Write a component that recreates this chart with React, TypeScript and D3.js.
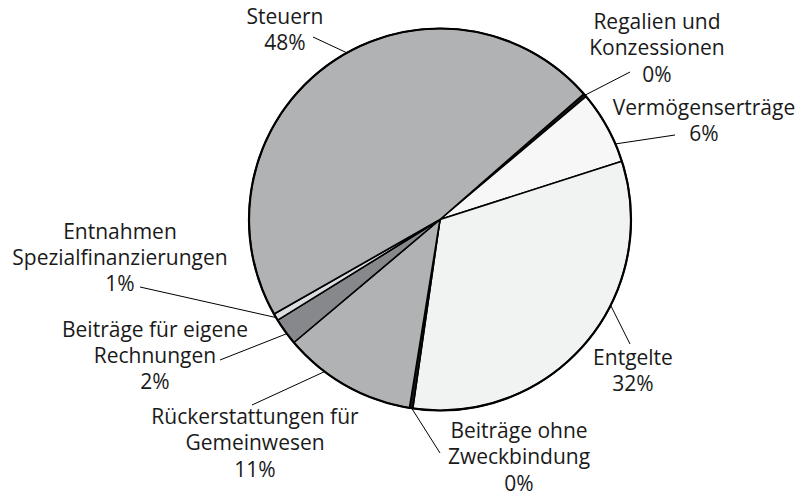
import React from "react";
import * as d3 from "d3";

// ---- data ----
const categories = [
  "Regalien und Konzessionen",
  "Vermögenserträge",
  "Entgelte",
  "Beiträge ohne Zweckbindung",
  "Rückerstattungen für Gemeinwesen",
  "Beiträge für eigene Rechnungen",
  "Entnahmen Spezialfinanzierungen",
  "Steuern",
];
const shares = [0.28, 6.2, 32.2, 0.28, 11.3, 2.3, 0.6, 46.8];
const percentLabels = ["0%", "6%", "32%", "0%", "11%", "2%", "1%", "48%"];
const labelLines = [
  ["Regalien und", "Konzessionen"],
  ["Vermögenserträge"],
  ["Entgelte"],
  ["Beiträge ohne", "Zweckbindung"],
  ["Rückerstattungen für", "Gemeinwesen"],
  ["Beiträge für eigene", "Rechnungen"],
  ["Entnahmen", "Spezialfinanzierungen"],
  ["Steuern"],
];

// ---- styling / layout ----
const colors = ["#1a1a1a", "#f7f7f7", "#f1f2f2", "#1a1a1a", "#b1b2b4", "#87888b", "#dcdddf", "#b1b2b4"];
const W = 807, H = 498;
const cx = 440, cy = 219.5, R = 191;
const startDeg = 48.9;
const FONT = "'Open Sans', sans-serif";
const FS = 21;
const LH = 26.3;
// label text anchor (center x, first baseline), leader rim angle (deg), leader outer end
const labelPos = [
  { x: 657, y: 29, rim: 49.4, ex: 630, ey: 72 },
  { x: 704, y: 115, rim: 66.7, ex: 675, ey: 135 },
  { x: 633, y: 365, rim: 116.7, ex: 630, ey: 344 },
  { x: 519, y: 438, rim: 188.5, ex: 440, ey: 453 },
  { x: 255, y: 424, rim: 217.2, ex: 252, ey: 405 },
  { x: 155, y: 336.5, rim: 233.3, ex: 220, ey: 360 },
  { x: 120, y: 238.5, rim: 239.1, ex: 140, ey: 287 },
  { x: 285, y: 24, rim: 330.8, ex: 313, ey: 37 },
];

export default function App() {
  const pie = d3
    .pie<number>()
    .sort(null)
    .value((d) => d)
    .startAngle((startDeg * Math.PI) / 180)
    .endAngle((startDeg * Math.PI) / 180 + 2 * Math.PI);
  const arcs = pie(shares);
  const arc = d3.arc<d3.PieArcDatum<number>>().innerRadius(0).outerRadius(R);

  return (
    <svg
      width={W}
      height={H}
      style={{ position: "absolute", left: 0, top: 0, background: "#fff" }}
      fontFamily={FONT}
    >
      <g transform={`translate(${cx},${cy})`}>
        {arcs.map((a, i) => (
          <path
            key={categories[i]}
            d={arc(a) || ""}
            fill={colors[i]}
            stroke="#000"
            strokeWidth={1.6}
            strokeLinejoin="round"
          />
        ))}
        <circle r={R} fill="none" stroke="#000" strokeWidth={2.2} />
      </g>
      {labelPos.map((p, i) => {
        const ang = (p.rim * Math.PI) / 180;
        const rx = cx + R * Math.sin(ang);
        const ry = cy - R * Math.cos(ang);
        return (
          <line key={"l" + i} x1={rx} y1={ry} x2={p.ex} y2={p.ey} stroke="#000" strokeWidth={1} />
        );
      })}
      {labelPos.map((p, i) => {
        const lines = [...labelLines[i], percentLabels[i]];
        return (
          <text key={"t" + i} x={p.x} y={p.y} textAnchor="middle" fontSize={FS} fontWeight={500} fill="#1a1a1a">
            {lines.map((s, j) => (
              <tspan key={j} x={p.x} y={p.y + j * LH}>
                {s}
              </tspan>
            ))}
          </text>
        );
      })}
    </svg>
  );
}
